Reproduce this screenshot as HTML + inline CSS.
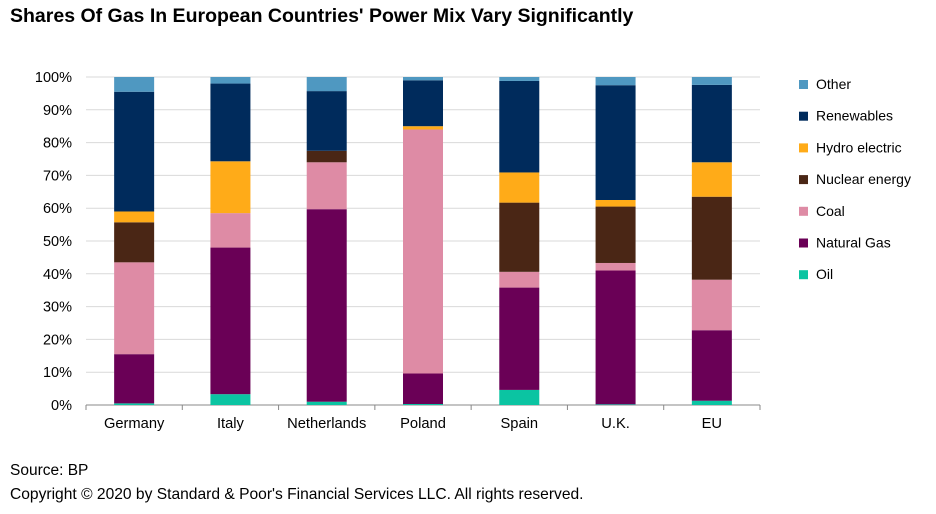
<!DOCTYPE html>
<html><head><meta charset="utf-8"><style>
body{margin:0;background:#fff;font-family:"Liberation Sans",Arial,sans-serif;}
#wrap{position:relative;width:936px;height:514px;overflow:hidden;}
</style></head><body>
<div id="wrap">
<svg id="chart" width="936" height="514">
<text x="10" y="22" font-size="19.5" font-weight="bold" fill="#000">Shares Of Gas In European Countries' Power Mix Vary Significantly</text>
<g id="grid"></g><g id="bars"></g><g id="axes"></g><g id="legend"></g>
<text x="10" y="475" font-size="15.5" fill="#000">Source: BP</text>
<text x="10" y="499" font-size="15.6" fill="#000">Copyright © 2020 by Standard &amp; Poor's Financial Services LLC. All rights reserved.</text>
</svg>
</div>
<script>
const categories=["Germany","Italy","Netherlands","Poland","Spain","U.K.","EU"];
const seriesNames=["Oil","Natural Gas","Coal","Nuclear energy","Hydro electric","Renewables","Other"];
const oil=[0.5,3.3,1,0.3,4.6,0.2,1.3];
const gas=[15,44.7,58.7,9.3,31.2,40.8,21.5];
const coal=[28,10.5,14.3,74.4,4.8,2.3,15.4];
const nuclear=[12.2,0,3.5,0,21.1,17.2,25.3];
const hydro=[3.3,15.8,0,1,9.2,2,10.5];
const renewables=[36.5,23.7,18.2,14,27.9,35,23.6];
const other=[4.5,2,4.3,1,1.2,2.5,2.4];
const yTicks=[0,10,20,30,40,50,60,70,80,90,100];
const colors=["#0bc4a2","#6a0056","#de8ba5","#4a2615","#ffab18","#002b5c","#4f98c1"];
const NS="http://www.w3.org/2000/svg";
const X0=86,X1=760,Y0=405,Y1=77;
const bw=(X1-X0)/categories.length;
function y(v){return Y0-(v/100)*(Y0-Y1);}
function xc(i){return X0+bw*(i+0.5);}
function mk(tag,attrs,parent){const e=document.createElementNS(NS,tag);for(const k in attrs)e.setAttribute(k,attrs[k]);parent.appendChild(e);return e;}
const grid=document.getElementById('grid'),bars=document.getElementById('bars'),axes=document.getElementById('axes'),legend=document.getElementById('legend');
yTicks.forEach(t=>{
 const l=mk('line',{x1:X0,x2:X1,y1:y(t),y2:y(t),stroke:t===0?'#888':'#d9d9d9','stroke-width':1},grid);
 
 
 const tx=mk('text',{x:72,y:y(t)+5,'font-size':14.5,'text-anchor':'end',fill:'#000'},axes);
 tx.textContent=t+'%';
 
 
});
for(let i=0;i<=categories.length;i++){
 const tk=mk('line',{x1:X0+bw*i,x2:X0+bw*i,y1:Y0,y2:Y0+5,stroke:'#888'},axes);
 
 
}
const series=[oil,gas,coal,nuclear,hydro,renewables,other];
categories.forEach((c,i)=>{
 let cum=0;
 series.forEach((s,j)=>{
  const v=s[i];
  const r=mk('rect',{x:xc(i)-20,width:40,y:y(cum+v),height:Math.max(0,y(cum)-y(cum+v)),fill:colors[j]},bars);
  
  
  cum+=v;
 });
 const t=mk('text',{x:xc(i),y:428,'font-size':14.7,'text-anchor':'middle',fill:'#000'},axes);
 t.textContent=c;
 
 
});
for(let j=seriesNames.length-1;j>=0;j--){
 const row=seriesNames.length-1-j;
 const ly=84+row*31.7;
 const g=mk('g',{},legend);
 
 
 mk('rect',{x:799,y:ly-4,width:9,height:9,fill:colors[j]},g);
 const t=mk('text',{x:816,y:ly+5,'font-size':14,fill:'#000'},g);
 t.textContent=seriesNames[j];
}
</script>
</body></html>
